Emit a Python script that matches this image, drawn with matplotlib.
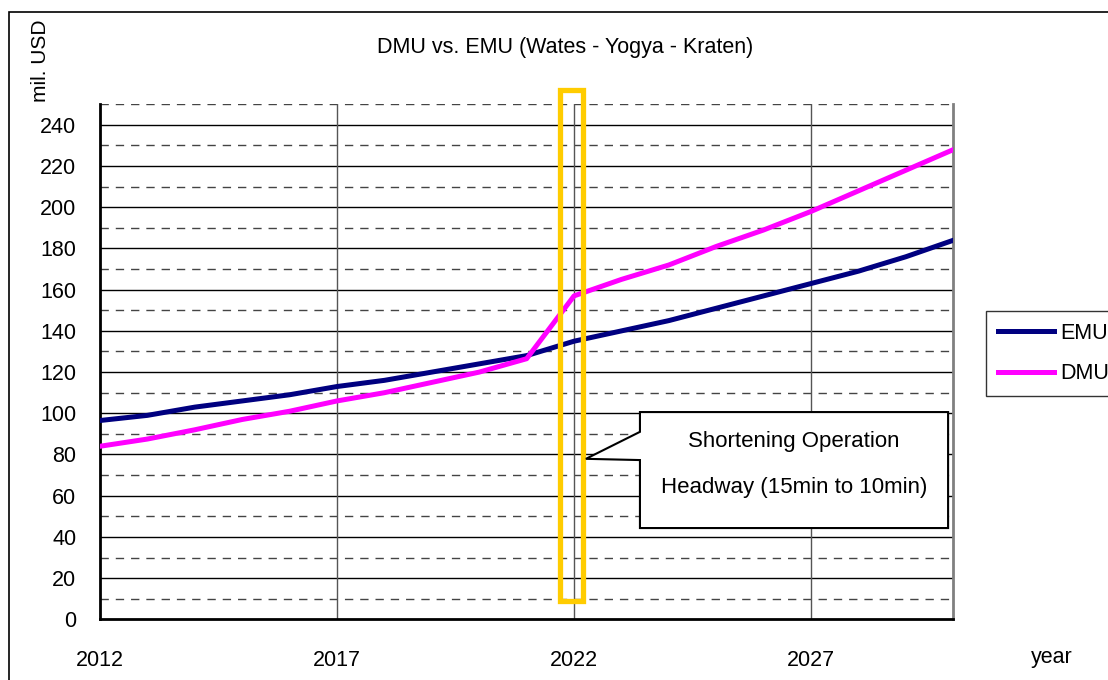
import matplotlib.pyplot as plt
from matplotlib.patches import Rectangle, Polygon

plt.rcParams['font.family'] = ['Liberation Sans', 'DejaVu Sans']

# Data
years = list(range(2012, 2031))
emu = [96.5, 99, 103, 106, 109, 113, 116, 120, 124, 128, 135, 140, 145, 151, 157, 163, 169, 176, 184]
dmu = [84, 87.5, 92, 97, 101, 106, 110, 115, 120, 126.5, 157, 165, 172, 181, 189, 198, 208, 218, 228]
x_ticks = [2012, 2017, 2022, 2027]
y_ticks = list(range(0, 250, 20))

fig = plt.figure(figsize=(11.08, 6.8), dpi=100)
ax = fig.add_axes([100 / 1108, 1 - 619.3 / 680, 853.3 / 1108, 515 / 680])

# outer chart border
fig.patches.append(Rectangle((9 / 1108, -0.1), 1.2, 1 - 12 / 680 + 0.1,
                             transform=fig.transFigure, fill=False,
                             edgecolor='black', lw=1.2))

# grid
for y in range(10, 260, 20):
    ax.axhline(y, color='#444444', lw=1, ls=(0, (6, 5)), zorder=1)
for y in y_ticks[1:]:
    ax.axhline(y, color='black', lw=1, zorder=1)
for x in x_ticks[1:]:
    ax.axvline(x, color='#555555', lw=1, zorder=1)

ax.plot(years, emu, color='#000080', lw=3.6, label='EMU', zorder=3)
ax.plot(years, dmu, color='#FF00FF', lw=3.6, label='DMU', zorder=3)

ax.set_xlim(2012, 2030)
ax.set_ylim(0, 250)
ax.set_xticks(x_ticks)
ax.set_yticks(y_ticks)
ax.tick_params(axis='x', length=0, pad=22, labelsize=15.5)
ax.tick_params(axis='y', length=0, pad=17, labelsize=15.5)

ax.spines['top'].set_visible(False)
ax.spines['left'].set_linewidth(2)
ax.spines['bottom'].set_linewidth(2)
ax.spines['right'].set_color('#808080')
ax.spines['right'].set_linewidth(2)

# highlighted year
ax.add_patch(Rectangle((2021.7, 9.1), 0.48, 248, fill=False, edgecolor='#FFCC00',
                       lw=3.8, zorder=4, clip_on=False))

# callout
call = [(2023.39, 100.6), (2029.89, 100.6), (2029.89, 44.3), (2023.39, 44.3),
        (2023.39, 77.3), (2022.25, 77.9), (2023.39, 91.0)]
ax.add_patch(Polygon(call, closed=True, facecolor='white', edgecolor='black',
                     lw=1.5, zorder=5))
ax.text(2026.64, 86.1, 'Shortening Operation', ha='center', va='center',
        fontsize=16, zorder=6)
ax.text(2026.64, 63.8, 'Headway (15min to 10min)', ha='center', va='center',
        fontsize=16, zorder=6)

fig.text(565 / 1108, 1 - 47 / 680, 'DMU vs. EMU (Wates - Yogya - Kraten)',
         ha='center', va='center', fontsize=15.5)
fig.text(40 / 1108, 1 - 61 / 680, 'mil. USD', rotation=90, ha='center', va='center', fontsize=15)
fig.text(1052 / 1108, 1 - 657 / 680, 'year', ha='center', va='center', fontsize=15.5)

leg = ax.legend(loc='upper left', bbox_to_anchor=(986 / 1108, 1 - 311 / 680),
                bbox_transform=fig.transFigure, borderaxespad=0, fontsize=15.5,
                frameon=True, fancybox=False, handlelength=2.6, handletextpad=0.3,
                labelspacing=0.9, borderpad=0.55)
leg.get_frame().set_edgecolor('black')
leg.get_frame().set_linewidth(1)

fig.savefig('out.png', dpi=100)
